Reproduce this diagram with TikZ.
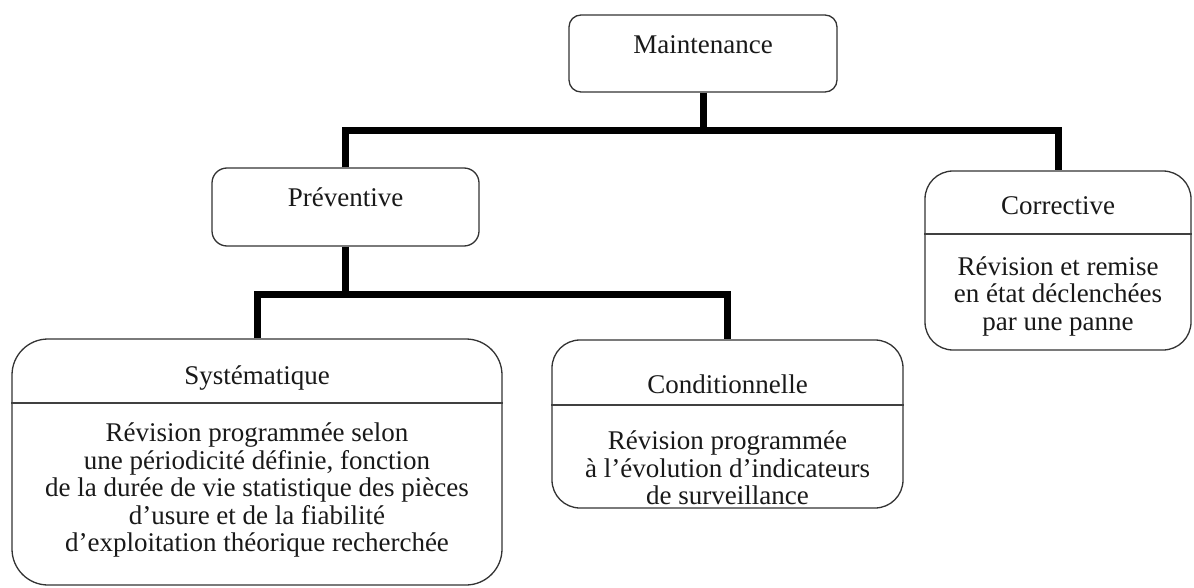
\documentclass[tikz,border=0pt]{standalone}
\usepackage{fontspec}
\setmainfont{Liberation Serif}
\begin{document}
\begin{tikzpicture}[x=1pt,y=-1pt,
  box/.style={draw=black!80, line width=1.3pt, fill=white, inner sep=0pt},
  link/.style={line width=7pt, black},
  sep/.style={draw=black!75, line width=1.2pt},
  title/.style={font=\fontsize{27}{27}\selectfont, inner sep=0pt, text=black!90},
  body/.style={font=\fontsize{27}{27.5}\selectfont, align=center, inner sep=0pt, text=black!90}]
\useasboundingbox (0,0) rectangle (1194,588);

% boxes
\node[box, rounded corners=12pt, minimum width=268pt, minimum height=77pt] (maint) at (703,53.5) {};
\node[box, rounded corners=15pt, minimum width=267pt, minimum height=78pt] (prev) at (345.5,207) {};
\node[box, rounded corners=28pt, minimum width=266pt, minimum height=179pt] (corr) at (1058,260.5) {};
\node[box, rounded corners=36pt, minimum width=490pt, minimum height=246pt] (syst) at (257,462) {};
\node[box, rounded corners=28pt, minimum width=351pt, minimum height=168pt] (cond) at (727.5,424) {};

% connectors
\coordinate (busT) at (703,131);
\coordinate (busP) at (345.5,294);
\draw[link] (maint.south) -- (busT);
\draw[link] (prev.north) |- (busT) -| (corr.north);
\draw[link] (prev.south) -- (busP);
\draw[link] (syst.north) |- (busP) -| (cond.north);

% dividers
\draw[sep] (corr.west |- 0,234) -- (corr.east |- 0,234);
\draw[sep] (syst.west |- 0,403) -- (syst.east |- 0,403);
\draw[sep] (cond.west |- 0,405) -- (cond.east |- 0,405);

% texts
\node[title] (tmaint) at (703,45) {Maintenance};
\node[title] (tprev) at (345.5,197) {Préventive};
\node[title] (tcorr) at (1058,206) {Corrective};
\node[title] (tsyst) at (257,378) {Systématique};
\node[title] (tcond) at (727.5,384) {Conditionnelle};

\node[body] (bcorr) at (1058,296) {Révision et remise\\en état déclenchées\\par une panne};
\node[body] (bsyst) at (257,490) {Révision programmée selon\\une périodicité définie, fonction\\de la durée de vie statistique des pièces\\d’usure et de la fiabilité\\d’exploitation théorique recherchée};
\node[body] (bcond) at (727.5,468) {Révision programmée\\à l’évolution d’indicateurs\\de surveillance};
\end{tikzpicture}
\end{document}
